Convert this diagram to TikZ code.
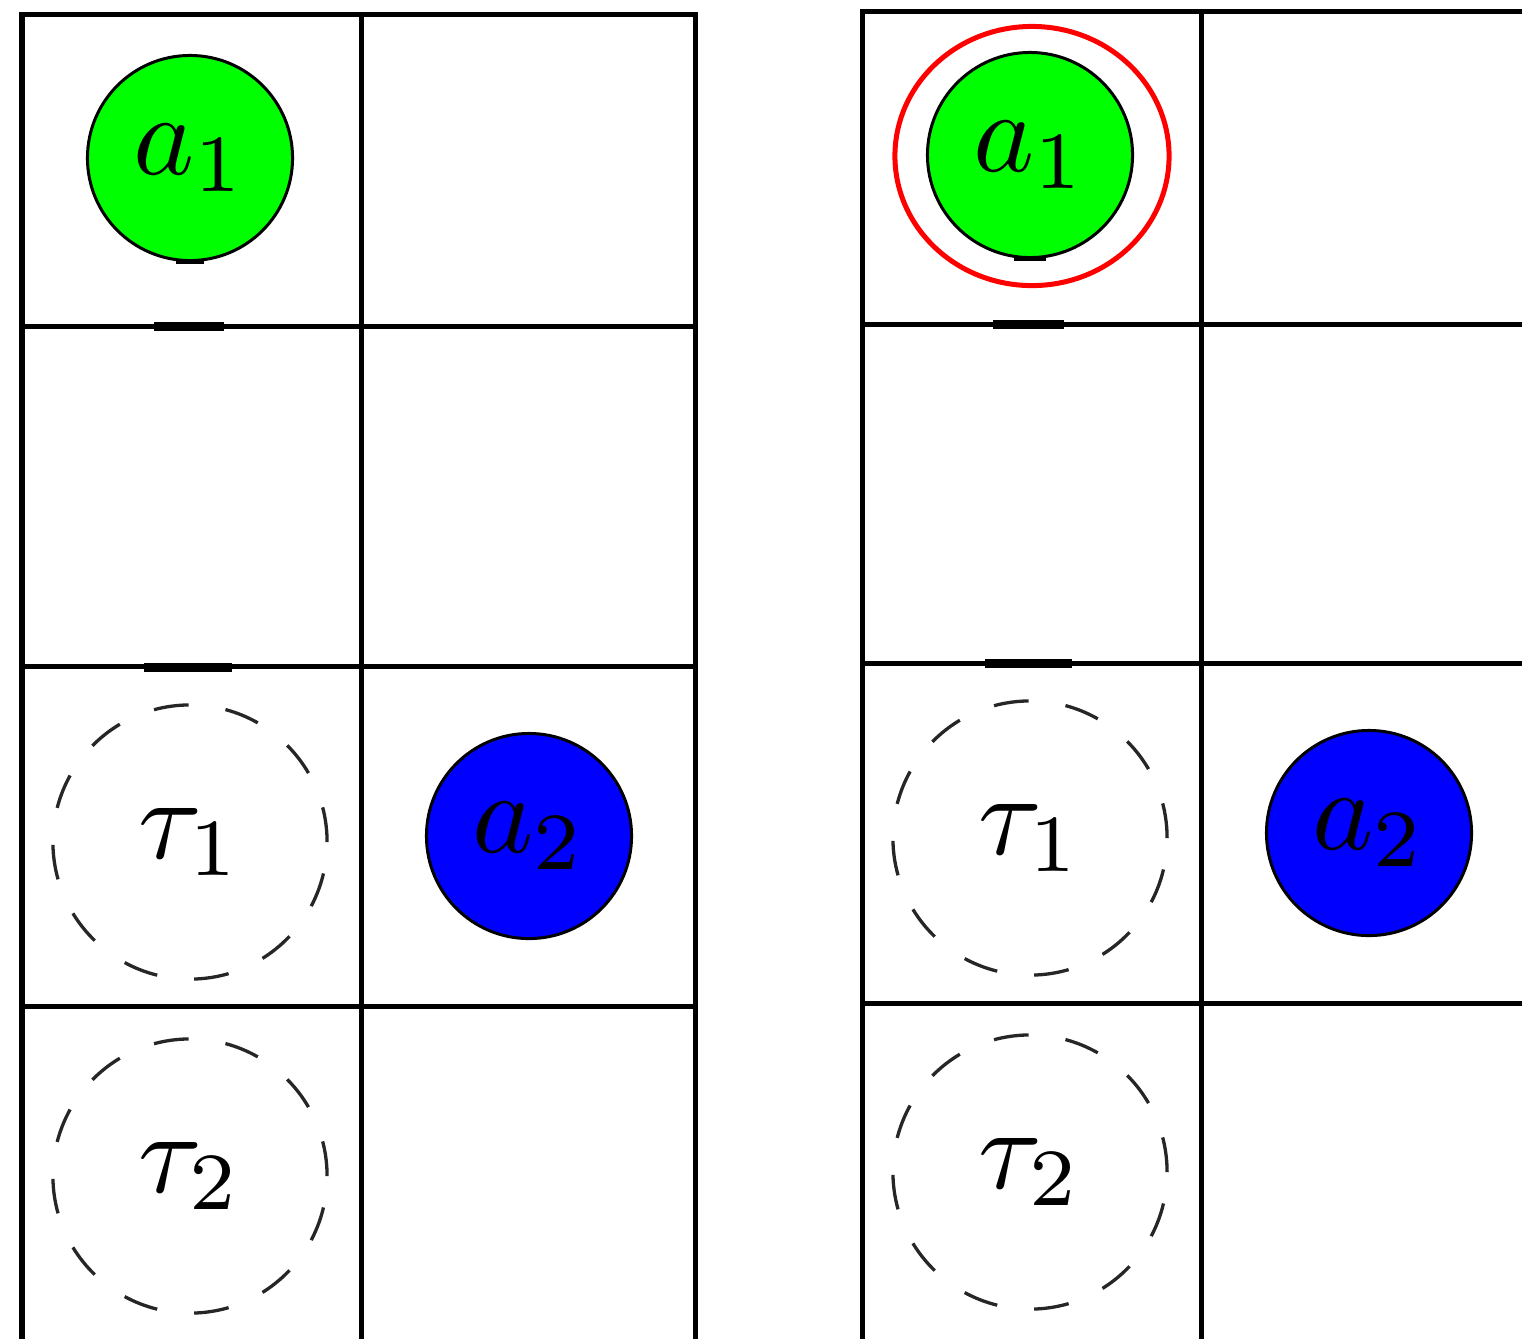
\documentclass[tikz,border=0pt]{standalone}
\usepackage{graphicx}
\usepackage{xcolor}
\usepackage{tikz}
\usetikzlibrary{shapes.geometric}

\newcommand{\cellname}[1]{\scalebox{3.3}{$#1$}}

\begin{document}
\begin{tikzpicture}[x=0.01cm, y=-0.01cm, line width=0.05cm,
    agent/.style={circle, draw=black, line width=0.03cm, minimum size=2.05cm, inner sep=0pt},
    goal/.style={circle, draw=black!85, line width=0.033cm, dash pattern=on 0.35cm off 0.372cm, minimum size=2.74cm, inner sep=0pt},
    barmark/.style={line width=0.09cm}]
\useasboundingbox (0,0) rectangle (1522,1338);
% left grid
\draw (22,1345) -- (22,14) -- (695,14) -- (695,1345);
\draw (361,14) -- (361,1345);
\foreach \y in {326,666,1006} \draw (22,\y) -- (695,\y);
\node[agent, fill=green] (a1L) at (190,158) {\cellname{a_1}};
\node[agent, fill=blue] (a2L) at (529,836) {\cellname{a_2}};
\node[goal] (tau1L) at (190,842) {\cellname{\tau_1}};
\node[goal] (tau2L) at (190,1176) {\cellname{\tau_2}};
\draw[line width=0.05cm] (176,261) -- (204,261);
\draw[barmark] (154,326) -- (224,326);
\draw[barmark] (144,667) -- (232,667);
% right grid
\draw (862,1345) -- (862,11) -- (1530,11);
\draw (1201,11) -- (1201,1345);
\foreach \y in {324,663,1003} \draw (862,\y) -- (1530,\y);
\node[agent, fill=green] (a1R) at (1030,155) {\cellname{a_1}};
\node[ellipse, draw=red, line width=0.05cm, minimum width=2.74cm, minimum height=2.59cm, inner sep=0pt] (ringR) at (1032,156) {};
\node[agent, fill=blue] (a2R) at (1369,833) {\cellname{a_2}};
\node[goal] (tau1R) at (1030,838) {\cellname{\tau_1}};
\node[goal] (tau2R) at (1030,1172) {\cellname{\tau_2}};
\draw[line width=0.05cm] (1014,258) -- (1046,258);
\draw[barmark] (993,324) -- (1064,324);
\draw[barmark] (985,663) -- (1072,663);
\end{tikzpicture}
\end{document}
